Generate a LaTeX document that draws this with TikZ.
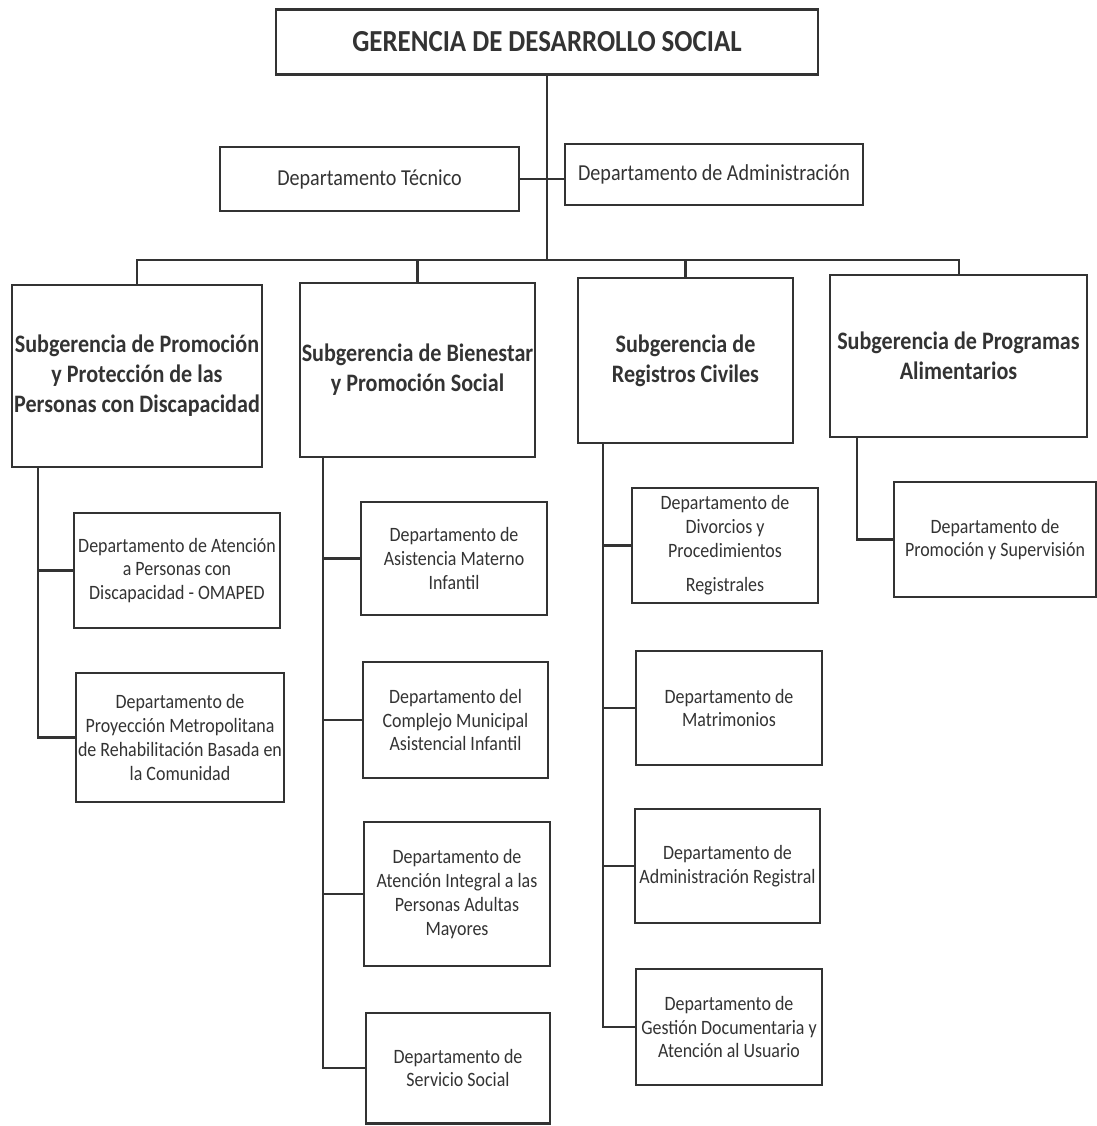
\documentclass[tikz,border=0pt]{standalone}
\usepackage{fontspec}
\setmainfont{Carlito}[FakeStretch=0.88]
\usetikzlibrary{positioning}

\tikzset{
  topbox/.style={draw, rectangle, align=center, inner sep=2pt,
    font=\fontsize{17.4}{20}\selectfont\bfseries},
  midbox/.style={draw, rectangle, align=center, inner sep=2pt,
    font=\fontsize{13}{15}\selectfont},
  subbox/.style={draw, rectangle, align=center, inner sep=1pt,
    font=\fontsize{14.3}{17}\selectfont\bfseries},
  deptbox/.style={draw, rectangle, align=center, inner sep=1pt,
    font=\fontsize{11.6}{13.5}\selectfont},
}

\begin{document}
\begin{tikzpicture}[x=0.02cm, y=-0.02cm, line width=1.15pt, color=black!80]
  \useasboundingbox (0,0) rectangle (1096,1126);

  % gerencia and staff
  \node[topbox, minimum width=10.84cm, minimum height=1.3cm] (ger) at (547,42) {GERENCIA DE DESARROLLO SOCIAL};
  \node[midbox, minimum width=5.98cm, minimum height=1.28cm] (tec) at (369.5,179) {Departamento T\'ecnico};
  \node[midbox, minimum width=5.96cm, minimum height=1.22cm] (adm) at (714,174.5) {Departamento de Administraci\'on};

  % subgerencias
  \node[subbox, minimum width=5cm, minimum height=3.64cm] (s1) at (137,376) {Subgerencia de Promoci\'on\\y Protecci\'on de las\\Personas con Discapacidad};
  \node[subbox, minimum width=4.7cm, minimum height=3.48cm] (s2) at (417.5,370) {Subgerencia de Bienestar\\y Promoci\'on Social};
  \node[subbox, minimum width=4.3cm, minimum height=3.3cm] (s3) at (685.5,360.5) {Subgerencia de\\Registros Civiles};
  \node[subbox, minimum width=5.14cm, minimum height=3.24cm] (s4) at (958.5,356) {Subgerencia de Programas\\Alimentarios};

  % departamentos
  \node[deptbox, minimum width=4.12cm, minimum height=2.3cm] (d1a) at (177,570.5) {Departamento de Atenci\'on\\a Personas con\\Discapacidad - OMAPED};
  \node[deptbox, minimum width=4.16cm, minimum height=2.58cm] (d1b) at (180,737.5) {Departamento de\\Proyecci\'on Metropolitana\\de Rehabilitaci\'on Basada en\\la Comunidad};

  \node[deptbox, minimum width=3.72cm, minimum height=2.26cm] (d2a) at (454,558.5) {Departamento de\\Asistencia Materno\\Infantil};
  \node[deptbox, minimum width=3.7cm, minimum height=2.32cm] (d2b) at (455.5,720) {Departamento del\\Complejo Municipal\\Asistencial Infantil};
  \node[deptbox, minimum width=3.72cm, minimum height=2.88cm] (d2c) at (457,894) {Departamento de\\Atenci\'on Integral a las\\Personas Adultas\\Mayores};
  \node[deptbox, minimum width=3.68cm, minimum height=2.22cm] (d2d) at (458,1068) {Departamento de\\Servicio Social};

  \node[deptbox, minimum width=3.72cm, minimum height=2.3cm] (d3a) at (725,545.5) {Departamento de\\Divorcios y\\Procedimientos\\[6pt]Registrales};
  \node[deptbox, minimum width=3.72cm, minimum height=2.28cm] (d3b) at (729,708) {Departamento de\\Matrimonios};
  \node[deptbox, minimum width=3.7cm, minimum height=2.28cm] (d3c) at (727.5,866) {Departamento de\\Administraci\'on Registral};
  \node[deptbox, minimum width=3.72cm, minimum height=2.32cm] (d3d) at (729,1027) {Departamento de\\Gesti\'on Documentaria y\\Atenci\'on al Usuario};

  \node[deptbox, minimum width=4.04cm, minimum height=2.3cm] (d4a) at (995,539.5) {Departamento de\\Promoci\'on y Supervisi\'on};

  % lines
  \coordinate (bus) at (547,260);
  \coordinate (t1) at (38,0);
  \coordinate (t2) at (323,0);
  \coordinate (t3) at (603,0);
  \coordinate (t4) at (857,0);

  \draw (ger.south) -- (bus);
  \draw (tec.east) -- (tec.east -| adm.west);
  \draw (s1.north) |- (bus) -| (s4.north);
  \draw (s2.north) -- (s2.north |- bus);
  \draw (s3.north) -- (s3.north |- bus);

  \draw (t1 |- s1.south) |- (d1b.west);
  \draw (t1 |- d1a.west) -- (d1a.west);

  \draw (t2 |- s2.south) |- (d2d.west);
  \draw (t2 |- d2a.west) -- (d2a.west);
  \draw (t2 |- d2b.west) -- (d2b.west);
  \draw (t2 |- d2c.west) -- (d2c.west);

  \draw (t3 |- s3.south) |- (d3d.west);
  \draw (t3 |- d3a.west) -- (d3a.west);
  \draw (t3 |- d3b.west) -- (d3b.west);
  \draw (t3 |- d3c.west) -- (d3c.west);

  \draw (t4 |- s4.south) |- (d4a.west);
\end{tikzpicture}
\end{document}
